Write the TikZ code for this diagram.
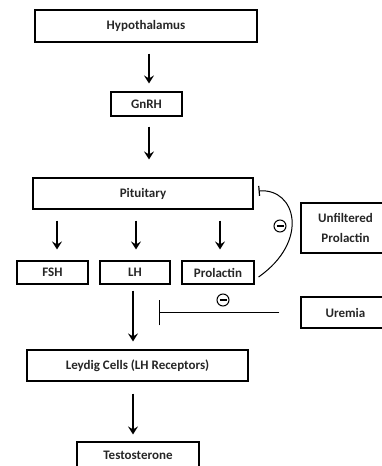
\documentclass[tikz,border=0pt]{standalone}
\usepackage{fontspec}
\setmainfont{Carlito}
\usetikzlibrary{arrows.meta}
\tikzset{
  box/.style={draw, line width=1.1pt, rectangle, inner sep=0pt, font=\fontsize{13}{15}\selectfont\bfseries, text=black!85},
  arr/.style={line width=1.2pt, -{Stealth[length=8pt,width=10pt,inset=3pt]}},
  minus/.style={draw, circle, line width=1pt, minimum size=12pt, inner sep=0pt,
    path picture={\draw[line width=1.2pt] ([xshift=-3.5pt]path picture bounding box.center) -- ([xshift=3.5pt]path picture bounding box.center);}},
}
\begin{document}
\begin{tikzpicture}[x=1pt,y=1pt]
\useasboundingbox (0,0) rectangle (382,466);
\node[box, minimum width=222pt, minimum height=32pt] (hyp) at (146,440) {Hypothalamus};
\node[box, minimum width=71pt, minimum height=24pt] (gnrh) at (146.5,362) {GnRH};
\node[box, minimum width=220pt, minimum height=31pt] (pit) at (143,272.5) {Pituitary};
\node[box, minimum width=71pt, minimum height=23pt] (fsh) at (52.5,193.5) {FSH};
\node[box, minimum width=70pt, minimum height=23pt] (lh) at (135,193.5) {LH};
\node[box, minimum width=72pt, minimum height=23pt] (prol) at (218,193.5) {Prolactin};
\node[box, minimum width=89pt, minimum height=50pt, align=center] (unf) at (345.5,238) {Unfiltered\\[5pt]Prolactin};
\node[box, minimum width=89pt, minimum height=31pt] (ure) at (345.5,153.5) {Uremia};
\node[box, minimum width=221pt, minimum height=31pt] (ley) at (137.5,100.5) {Leydig Cells (LH Receptors)};
\node[box, minimum width=122pt, minimum height=26pt] (test) at (138,11) {Testosterone};
\node[minus] (m1) at (280,240) {};
\node[minus] (m2) at (223,166) {};
\coordinate (uend) at (159,153);

\draw[arr, shorten <=11pt, shorten >=8pt] ([xshift=3pt]hyp.south) -- ([xshift=2.5pt]gnrh.north);
\draw[arr, shorten <=10pt, shorten >=18pt] ([xshift=2.5pt]gnrh.south) -- ([xshift=6pt]pit.north);
\draw[arr, shorten <=11pt, shorten >=11pt] ([xshift=4.5pt]fsh.north |- pit.south) -- ([xshift=4.5pt]fsh.north);
\draw[arr, shorten <=11pt, shorten >=11pt] ([xshift=1pt]lh.north |- pit.south) -- ([xshift=1pt]lh.north);
\draw[arr, shorten <=11pt, shorten >=11pt] ([xshift=2pt]prol.north |- pit.south) -- ([xshift=2pt]prol.north);
\draw[arr, shorten <=6pt, shorten >=8pt] ([xshift=-2pt]lh.south) -- ([xshift=-4.5pt]ley.north);
\draw[arr, shorten <=12pt, shorten >=7pt] ([xshift=-4.5pt]ley.south) -- ([xshift=-5pt]test.north);
\draw[line width=1pt, -{Bar[width=25pt,line width=1.2pt]}, shorten <=21pt] ([yshift=-0.5pt]ure.west) -- (uend);
\draw[line width=1pt, -{Bar[width=10pt,line width=1.2pt]}] ([shift={(4,-4.5)}]prol.east) .. controls (310,225) and (296,278) .. ([shift={(5,2.5)}]pit.east);
\end{tikzpicture}
\end{document}
